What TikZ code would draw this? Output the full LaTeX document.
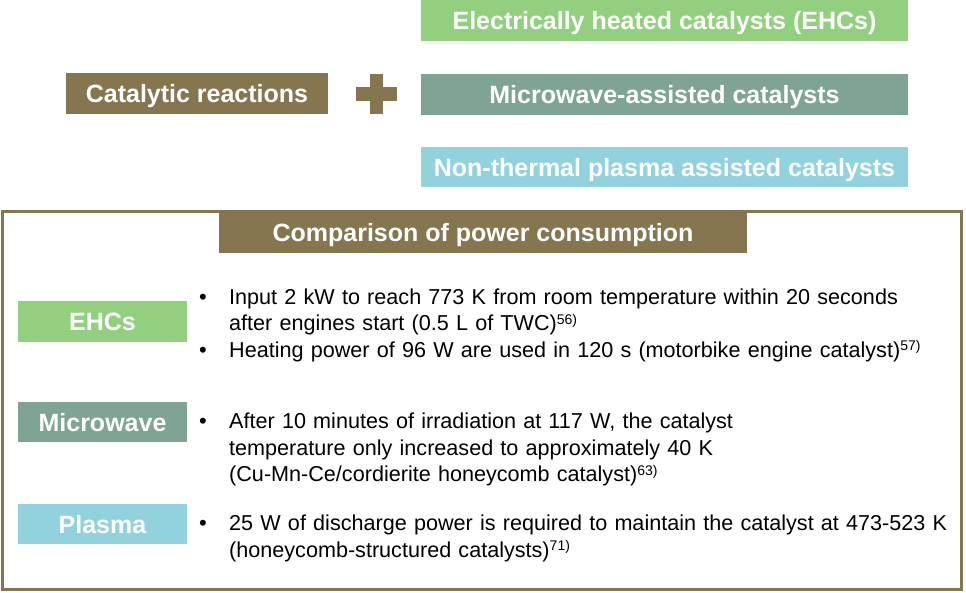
\documentclass[tikz,border=0pt]{standalone}
\usepackage{fontspec}
\setmainfont{Liberation Sans}
\definecolor{brownbox}{RGB}{134,118,80}
\definecolor{ehcgreen}{RGB}{146,208,128}
\definecolor{mwgreen}{RGB}{128,164,148}
\definecolor{plblue}{RGB}{146,210,220}
\newcommand\refsup[1]{\raisebox{0.3em}{\fontsize{14}{14}\selectfont #1}}
\tikzset{
  titlebox/.style={fill=#1, text=white, inner sep=0pt, font=\fontsize{25}{30}\selectfont\bfseries,
    text height=18pt, text depth=0pt, align=center},
  bodytext/.style={inner sep=0pt, anchor=base west, text width=800pt, align=left,
    font=\fontsize{21.6}{26.5}\selectfont},
  bulletmark/.style={inner sep=0pt, anchor=base west, font=\fontsize{22}{26.5}\selectfont}
}
\begin{document}
\begin{tikzpicture}[x=1pt,y=-1pt]
\useasboundingbox (0,0) rectangle (966,592);
% top row
\node[titlebox=ehcgreen, minimum width=487pt, minimum height=41pt] (ehctop) at (664.5,20.5) {Electrically heated catalysts (EHCs)};
\node[titlebox=mwgreen, minimum width=487pt, minimum height=41pt] (mwtop) at (664.5,94) {Microwave-assisted catalysts};
\node[titlebox=plblue, minimum width=487pt, minimum height=40pt] (pltop) at (664.5,167) {Non-thermal plasma assisted catalysts};
\node[titlebox=brownbox, minimum width=262pt, minimum height=41pt] (cat) at (197,93.5) {Catalytic reactions};
% plus sign
\fill[brownbox] (370,73.5) rectangle (383,114);
\fill[brownbox] (356,87.3) rectangle (396.5,100.7);
% frame
\draw[brownbox, line width=3pt] (2.5,211.5) rectangle (961.5,589.5);
\node[titlebox=brownbox, minimum width=528pt, minimum height=40pt] (head) at (483,232.5) {Comparison of power consumption};
% labels
\node[titlebox=ehcgreen, minimum width=169pt, minimum height=41pt] (ehc) at (102.5,321.5) {EHCs};
\node[titlebox=mwgreen, minimum width=169pt, minimum height=40pt] (mw) at (102.5,422) {Microwave};
\node[titlebox=plblue, minimum width=169pt, minimum height=40pt] (pl) at (102.5,524) {Plasma};
% bullets
\node[bulletmark] (b1) at (199,304) {•};
\node[bodytext] (t1) at (229,304) {Input 2 kW to reach 773 K from room temperature within 20 seconds\\after engines start (0.5 L of TWC)\refsup{56)}};
\node[bulletmark] (b2) at (199,357) {•};
\node[bodytext] (t2) at (229,357) {Heating power of 96 W are used in 120 s (motorbike engine catalyst)\refsup{57)}};
\node[bulletmark] (b3) at (199,428.5) {•};
\node[bodytext] (t3) at (229,428.5) {After 10 minutes of irradiation at 117 W, the catalyst\\temperature only increased to approximately 40 K\\(Cu-Mn-Ce/cordierite honeycomb catalyst)\refsup{63)}};
\node[bulletmark] (b4) at (199,530.5) {•};
\node[bodytext] (t4) at (229,530.5) {25 W of discharge power is required to maintain the catalyst at 473-523 K\\(honeycomb-structured catalysts)\refsup{71)}};
\end{tikzpicture}
\end{document}
